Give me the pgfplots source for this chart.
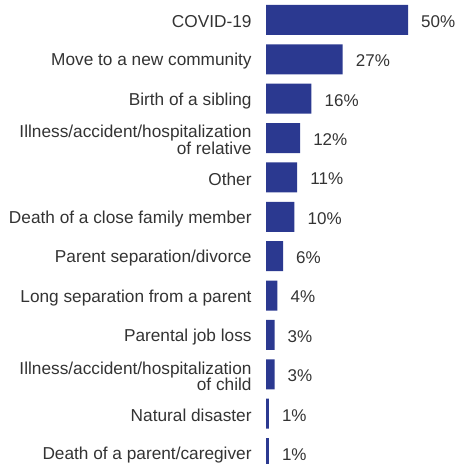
\documentclass[border=0pt]{standalone}
\usepackage{pgfplots}
\pgfplotsset{compat=1.18}
\usepackage{fontspec}
\setmainfont{Liberation Sans}
\definecolor{barblue}{HTML}{2B3990}
\definecolor{txt}{HTML}{333333}
\begin{document}
\begin{tikzpicture}
\begin{axis}[
  at={(266bp,463.7bp)}, anchor=north west,
  scale only axis, width=142bp, height=472.4bp,
  xbar, bar width=30bp,
  xmin=0, xmax=50, ymin=-0.5, ymax=11.5, enlargelimits=false,
  y dir=reverse,
  axis line style={draw=none}, tick style={draw=none},
  xtick=\empty, ytick={0,...,11},
  yticklabels={COVID-19, Move to a new community, Birth of a sibling,
    {Illness/accident/hospitalization~\\of relative}, Other,
    Death of a close family member, Parent separation/divorce,
    Long separation from a parent, Parental job loss,
    {Illness/accident/hospitalization~\\of child}, Natural disaster,
    Death of a parent/caregiver},
  yticklabel style={align=right, inner sep=0pt, xshift=-10bp, yshift=-2bp, text=txt,
    font=\fontsize{17.25bp}{16.8bp}\selectfont},
  nodes near coords={\pgfmathprintnumber[assume math mode=true]{\pgfplotspointmeta}\%},
  point meta=x,
  nodes near coords style={anchor=west, inner sep=0pt, xshift=13bp, yshift=-1.5bp, text=txt,
    font=\fontsize{17bp}{17bp}\selectfont},
  clip=false,
]
\addplot[fill=barblue, draw=none] coordinates {
  (50,0) (27,1) (16,2) (12,3) (11,4) (10,5) (6,6) (4,7) (3,8) (3,9) (1,10) (1,11)
};
\end{axis}
\pgfresetboundingbox
\path (0,0) rectangle (456bp,464bp);
\end{tikzpicture}
\end{document}
